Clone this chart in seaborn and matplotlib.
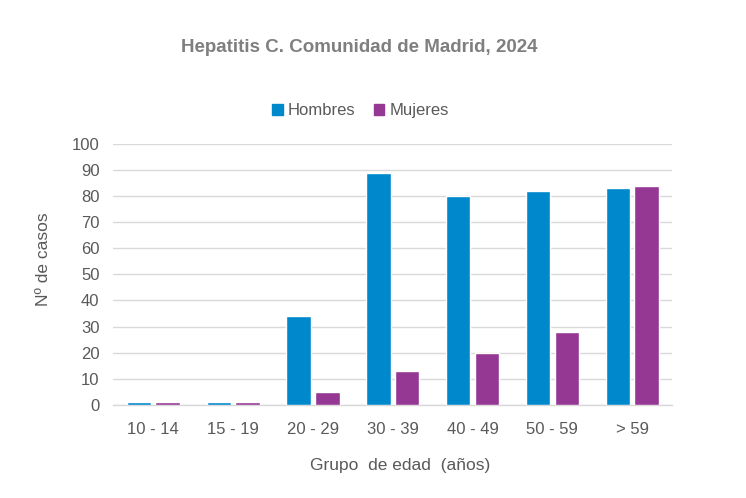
import pandas as pd
import seaborn as sns
import matplotlib.pyplot as plt

# datos
grupos = ["10 - 14", "15 - 19", "20 - 29", "30 - 39", "40 - 49", "50 - 59", "> 59"]
hombres = [1, 1, 34, 89, 80, 82, 83]
mujeres = [1, 1, 5, 13, 20, 28, 84]
yticks = list(range(0, 101, 10))

sns.set_theme(style="white")
plt.rcParams["font.family"] = ["Liberation Sans", "DejaVu Sans"]

gris = "#595959"
colores = {"Hombres": "#0088CC", "Mujeres": "#943894"}

df = pd.DataFrame({"Grupo": grupos, "Hombres": hombres, "Mujeres": mujeres})
df = df.melt(id_vars="Grupo", var_name="Sexo", value_name="Casos")

fig = plt.figure(figsize=(7.46, 4.98), dpi=100)
ax = fig.add_axes([0.152, 0.187, 0.749, 0.524])

sns.barplot(data=df, x="Grupo", y="Casos", hue="Sexo", palette=colores,
            saturation=1, width=0.72, gap=0.15, ax=ax, legend=False, zorder=3)

ax.set_ylim(0, 100)
ax.set_xlim(-0.5, len(grupos) - 0.5)
ax.set_yticks(yticks)
ax.yaxis.grid(True, color="#d9d9d9", linewidth=1, zorder=0)
ax.set_axisbelow(True)
for s in ["top", "right", "left"]:
    ax.spines[s].set_visible(False)
ax.spines["bottom"].set_color("#d9d9d9")
ax.spines["bottom"].set_linewidth(1)
ax.tick_params(axis="y", length=0, labelsize=12, labelcolor=gris, pad=10)
ax.tick_params(axis="x", length=0, labelsize=12, labelcolor=gris, pad=12)

ax.set_xlabel("Grupo  de edad  (años)", fontsize=12.5, color=gris)
ax.set_ylabel("Nº de casos", fontsize=12.5, color=gris)
ax.xaxis.set_label_coords(0.513, -0.205)
ax.yaxis.set_label_coords(-0.112, 0.56)

fig.text(0.481, 0.895, "Hepatitis C. Comunidad de Madrid, 2024", ha="center",
         fontsize=13.5, fontweight="bold", color="#7f7f7f")

handles = [plt.Rectangle((0, 0), 1, 1, color=c) for c in colores.values()]
fig.legend(handles, list(colores.keys()), loc="center", bbox_to_anchor=(0.483, 0.778),
           ncol=2, frameon=False, fontsize=12, labelcolor=gris,
           handlelength=0.65, handleheight=0.65, handletextpad=0.3, columnspacing=1.1)

fig.savefig("out.png", dpi=100)
